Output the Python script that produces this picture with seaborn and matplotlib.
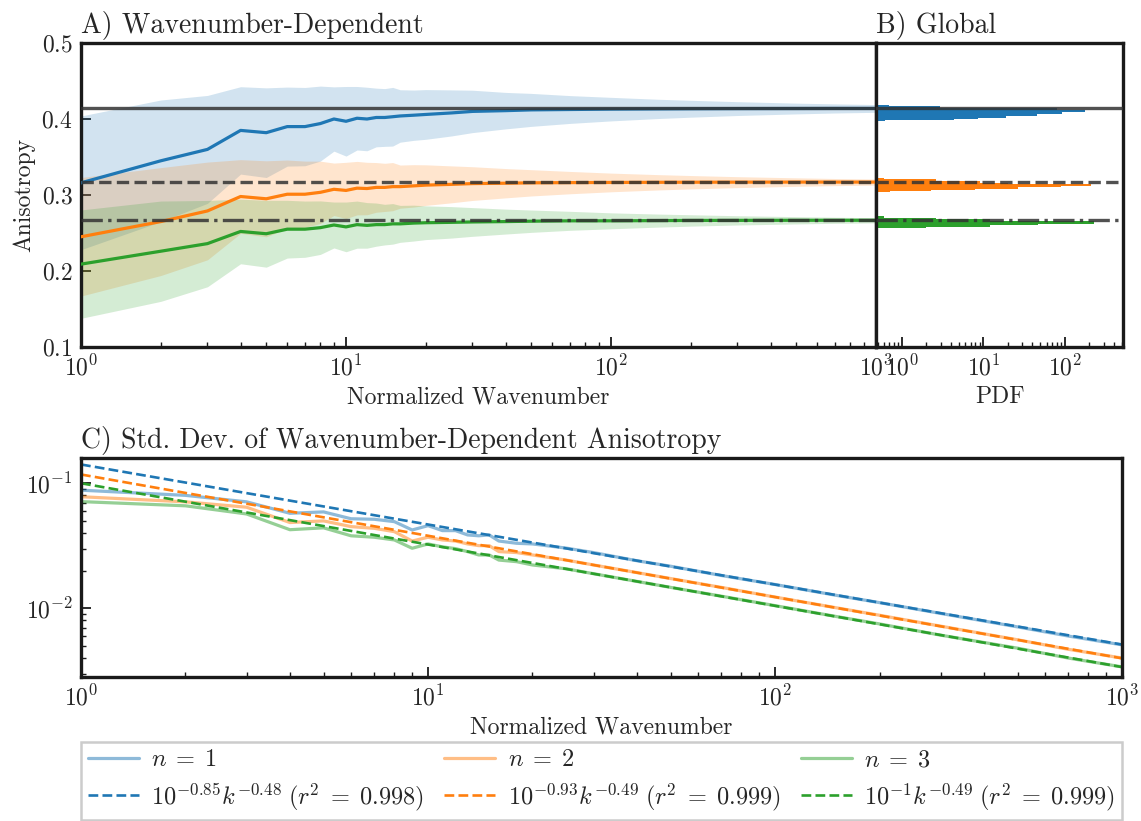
import numpy as np
import pandas as pd
import matplotlib
matplotlib.use("Agg")
import matplotlib.pyplot as plt
import seaborn as sns

# Normalized wavenumbers at which the statistics are sampled
K = [1, 2, 3, 4, 5, 6, 7, 8, 9, 10, 11, 12, 13, 14, 15, 16, 18, 20,
     25, 30, 40, 50, 70, 100, 150, 200, 300, 500, 700, 1000]

# Wavenumber-dependent mean anisotropy for n = 1, 2, 3
MEAN_N1 = [0.316, 0.345, 0.360, 0.385, 0.382, 0.390, 0.390, 0.394, 0.400, 0.397,
           0.401, 0.400, 0.402, 0.402, 0.403, 0.404, 0.405, 0.406, 0.408, 0.410,
           0.411, 0.412, 0.4125, 0.413, 0.4133, 0.4135, 0.4137, 0.4138, 0.4139, 0.4139]
MEAN_N2 = [0.245, 0.265, 0.279, 0.298, 0.295, 0.301, 0.301, 0.3035, 0.3075, 0.306,
           0.309, 0.3085, 0.310, 0.310, 0.311, 0.311, 0.312, 0.313, 0.314, 0.315,
           0.3155, 0.316, 0.3163, 0.3165, 0.3167, 0.3168, 0.3169, 0.317, 0.317, 0.317]
MEAN_N3 = [0.209, 0.226, 0.236, 0.252, 0.249, 0.255, 0.255, 0.257, 0.2605, 0.258,
           0.261, 0.260, 0.261, 0.261, 0.262, 0.262, 0.263, 0.2635, 0.264, 0.2645,
           0.265, 0.2655, 0.266, 0.266, 0.2663, 0.2665, 0.2666, 0.2667, 0.2667, 0.2667]

# Standard deviation of the wavenumber-dependent anisotropy
STD_N1 = [0.088, 0.080, 0.071, 0.0575, 0.059, 0.052, 0.0515, 0.0493, 0.0423, 0.0458,
          0.0418, 0.0418, 0.0386, 0.038, 0.0386, 0.0345, 0.0331, 0.0327, 0.0303, 0.0279,
          0.0240, 0.0217, 0.0183, 0.0155, 0.0127, 0.0111, 0.0091, 0.0071, 0.0060, 0.0051]
STD_N2 = [0.078, 0.071, 0.0643, 0.0485, 0.050, 0.045, 0.0436, 0.041, 0.0345, 0.037,
          0.0352, 0.0345, 0.0327, 0.0317, 0.0317, 0.0284, 0.0279, 0.0267, 0.0243, 0.0222,
          0.0193, 0.0173, 0.0147, 0.0123, 0.0101, 0.0088, 0.0072, 0.0056, 0.0047, 0.0040]
STD_N3 = [0.0713, 0.066, 0.0568, 0.0425, 0.0440, 0.038, 0.037, 0.0352, 0.0302, 0.0327,
          0.031, 0.030, 0.0284, 0.0267, 0.0267, 0.0243, 0.0236, 0.0222, 0.0207, 0.0189,
          0.0164, 0.0147, 0.0125, 0.0105, 0.0086, 0.0075, 0.0061, 0.0048, 0.0040, 0.0034]

# Global anisotropy (mean over all wavenumbers)
GLOBAL_MEAN = [0.414, 0.317, 0.267]

# Global anisotropy distributions: bin edges and probability density
HIST_EDGES_N1 = [0.3974, 0.3992, 0.4000, 0.4018, 0.4036, 0.4062, 0.4092, 0.4124, 0.4150, 0.4167, 0.4184]
HIST_PDF_N1 = [0.62, 4.4, 8.5, 19, 45, 93, 180, 80, 2.9, 0.7]
HIST_EDGES_N2 = [0.3040, 0.3053, 0.3071, 0.3084, 0.3101, 0.3118, 0.3141, 0.3163, 0.3184, 0.3207, 0.3224]
HIST_PDF_N2 = [0.72, 2.3, 7.8, 27, 89, 209, 20, 9, 2.6, 0.6]
HIST_EDGES_N3 = [0.2566, 0.2579, 0.2601, 0.2624, 0.2654, 0.2681, 0.2703, 0.2720]
HIST_PDF_N3 = [2, 12, 47, 228, 12, 2.6, 0.6]

# Power-law fits of the standard deviation: 10^a * k^b
FIT_LOG10_AMP = [-0.85, -0.93, -1.0]
FIT_SLOPE = [-0.48, -0.49, -0.49]
FIT_R2 = [0.998, 0.999, 0.999]

SERIES_LABELS = [r"$n\;=\;1$", r"$n\;=\;2$", r"$n\;=\;3$"]
COLORS = ["#1f77b4", "#ff7f0e", "#2ca02c"]
GLOBAL_STYLES = ["-", "--", "-."]

sns.set_theme(style="white")
plt.rcParams.update({
    "font.family": "serif",
    "font.serif": ["cmr10"],
    "mathtext.fontset": "cm",
    "axes.formatter.use_mathtext": True,
    "axes.unicode_minus": True,
})

fig = plt.figure(figsize=(11.41, 8.21), dpi=100)
axA = fig.add_axes([0.0710, 0.5774, 0.6968, 0.3702])
axB = fig.add_axes([0.7678, 0.5774, 0.2164, 0.3702], sharey=axA)
axC = fig.add_axes([0.0710, 0.1758, 0.9124, 0.2667])

k = np.asarray(K, dtype=float)
means = [np.asarray(m) for m in (MEAN_N1, MEAN_N2, MEAN_N3)]
stds = [np.asarray(s) for s in (STD_N1, STD_N2, STD_N3)]
hists = [(HIST_EDGES_N1, HIST_PDF_N1), (HIST_EDGES_N2, HIST_PDF_N2), (HIST_EDGES_N3, HIST_PDF_N3)]

# --- Panel A: wavenumber-dependent anisotropy with +/- one standard deviation
axA.set_xscale("log")
for m, s, c in zip(means, stds, COLORS):
    axA.fill_between(k, m - s, m + s, color=c, alpha=0.2, linewidth=0, zorder=1)
    sns.lineplot(x=k, y=m, ax=axA, color=c, linewidth=2.3, estimator=None,
                 sort=False, zorder=3)
for g, ls in zip(GLOBAL_MEAN, GLOBAL_STYLES):
    axA.axhline(g, color="0.2", alpha=0.85, linewidth=2.4, linestyle=ls, zorder=4)
axA.set_xlim(1, 1000)
axA.set_ylim(0.1, 0.5)
axA.set_yticks([0.1, 0.2, 0.3, 0.4, 0.5])
axA.set_xlabel("Normalized Wavenumber", fontsize=17)
axA.set_ylabel("Anisotropy", fontsize=17)
axA.set_title("A) Wavenumber-Dependent", loc="left", fontsize=20, pad=7)

# --- Panel B: global anisotropy PDFs
axB.set_xscale("log")
for (edges, pdf), c in zip(hists, COLORS):
    e = [float(v) for v in edges]
    centers = [0.5 * (a + b) for a, b in zip(e[:-1], e[1:])]
    df = pd.DataFrame({"anisotropy": centers, "pdf": [float(p) for p in pdf]})
    sns.histplot(data=df, y="anisotropy", weights="pdf", bins=e, ax=axB,
                 color=c, alpha=1.0, linewidth=0, element="bars", stat="count",
                 zorder=2)
for g, ls in zip(GLOBAL_MEAN, GLOBAL_STYLES):
    axB.axhline(g, color="0.2", alpha=0.85, linewidth=2.4, linestyle=ls, zorder=4)
axB.set_xlim(0.48, 520)
axB.set_ylim(0.1, 0.5)
axB.set_xlabel("PDF", fontsize=17)
axB.set_ylabel("")
axB.set_title("B) Global", loc="left", fontsize=20, pad=7)

# --- Panel C: standard deviation and power-law fits
axC.set_xscale("log")
axC.set_yscale("log")
for i, (s, c) in enumerate(zip(stds, COLORS)):
    sns.lineplot(x=k, y=s, ax=axC, color=c, alpha=0.5, linewidth=2.3,
                 estimator=None, sort=False, label=SERIES_LABELS[i])
    fit = 10.0 ** FIT_LOG10_AMP[i] * k ** FIT_SLOPE[i]
    fit_label = (f"$10^{{{FIT_LOG10_AMP[i]:g}}}k^{{{FIT_SLOPE[i]:g}}}\\;"
                 f"(r^2\\;=\\;{FIT_R2[i]:.3f})$")
    sns.lineplot(x=k, y=fit, ax=axC, color=c, linewidth=1.9, linestyle="--",
                 estimator=None, sort=False, label=fit_label)
if axC.get_legend() is not None:
    axC.get_legend().remove()
axC.set_xlim(1, 1000)
axC.set_ylim(0.00284, 0.160)
axC.set_xlabel("Normalized Wavenumber", fontsize=17)
axC.set_title("C) Std. Dev. of Wavenumber-Dependent Anisotropy", loc="left",
              fontsize=20, pad=7)

for ax in (axA, axB, axC):
    ax.tick_params(which="both", direction="in", bottom=True, left=True,
                   top=False, right=False, labelsize=17, color="k")
    ax.tick_params(which="major", length=7, width=1.3, pad=6)
    ax.tick_params(which="minor", length=3.5, width=1.0)
    for sp in ax.spines.values():
        sp.set_color("k")
        sp.set_linewidth(2.4)
axB.tick_params(axis="y", which="both", left=False, labelleft=False)

# Shared legend below panel C: first row data, second row fits
handles, labels = axC.get_legend_handles_labels()
leg = fig.legend(handles, labels, ncol=3, loc="lower left",
                 bbox_to_anchor=(0.0710, 0.0012, 0.9124, 0.0942), mode="expand",
                 frameon=True, fancybox=False, edgecolor="#cccccc", fontsize=17.5,
                 handlelength=2.1, handletextpad=0.5, borderaxespad=0,
                 borderpad=0.3, labelspacing=0.4, framealpha=1)
leg.get_frame().set_linewidth(1.8)

fig.savefig("out.png", dpi=100)
